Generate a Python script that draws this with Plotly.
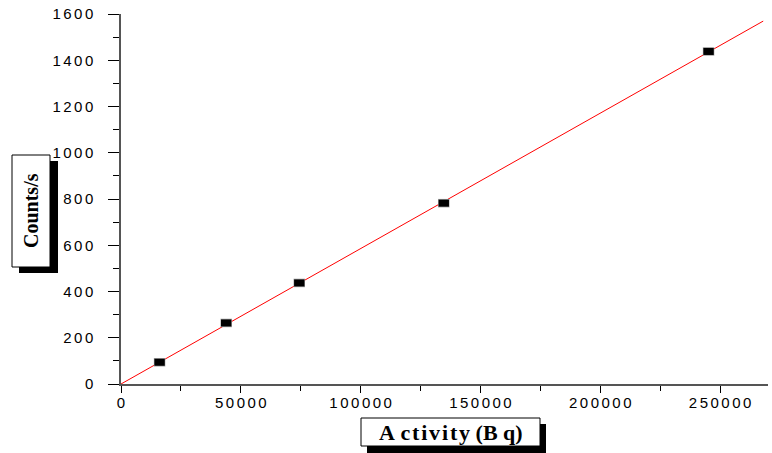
import numpy as np
import plotly.graph_objects as go

# ---- data ----
activity_bq = [16100, 43900, 74400, 134700, 245200]
counts_per_s = [94, 264, 437, 782, 1438]
fit_x_range = [0, 268000]

x_tick_vals = [0, 50000, 100000, 150000, 200000, 250000]
y_tick_vals = [0, 200, 400, 600, 800, 1000, 1200, 1400, 1600]

HS = "\u200a"
x_title = "A\u00a0" + HS.join("ctivity") + "\u00a0(B\u00a0q)"
y_title = "Counts/s"

# least-squares line through the origin
xa = np.array(activity_bq, dtype=float)
ya = np.array(counts_per_s, dtype=float)
slope = float((xa * ya).sum() / (xa * xa).sum())
fit_x = np.array(fit_x_range, dtype=float)
fit_y = slope * fit_x

TS = "\u2006"
def spaced(v):
    return TS.join(str(v))

# ---- layout geometry (pixels) ----
W, H = 772, 453
L, R, T, B = 121, 4, 14, 69
PW, PH = W - L - R, H - T - B

def px(x):
    return (x - L) / PW

def py(y):
    return (H - B - y) / PH

fig = go.Figure()

fig.add_trace(go.Scatter(x=fit_x, y=fit_y, mode="lines",
                         line=dict(color="#ff0000", width=1),
                         hoverinfo="skip", showlegend=False))
# rectangular markers: thick horizontal line symbols
fig.add_trace(go.Scatter(x=activity_bq, y=counts_per_s, mode="markers",
                         marker=dict(symbol="line-ew", size=8.2,
                                     line=dict(color="#a0a0a0", width=8.5)),
                         showlegend=False))
fig.add_trace(go.Scatter(x=activity_bq, y=counts_per_s, mode="markers",
                         marker=dict(symbol="line-ew", size=7.4,
                                     line=dict(color="#000000", width=7)),
                         showlegend=False))

tick_font = dict(family="Liberation Sans, Arial, sans-serif", size=15, color="#000")

fig.update_xaxes(range=[0, 270000], tickvals=x_tick_vals,
                 ticktext=[spaced(v) for v in x_tick_vals],
                 ticks="outside", ticklen=7, tickwidth=1, tickcolor="#000",
                 minor=dict(dtick=25000, ticks="outside", ticklen=5, tickcolor="#000", tickwidth=1),
                 showline=True, linecolor="#555", linewidth=1.5,
                 showgrid=False, zeroline=False, tickfont=tick_font,
                 ticklabelstandoff=-3)
fig.update_yaxes(range=[0, 1600], tickvals=y_tick_vals,
                 ticktext=[spaced(v) for v in y_tick_vals],
                 ticks="outside", ticklen=11, tickwidth=1, tickcolor="#000",
                 minor=dict(dtick=100, ticks="outside", ticklen=6, tickcolor="#000", tickwidth=1),
                 showline=True, linecolor="#555", linewidth=1.5,
                 showgrid=False, zeroline=False, tickfont=tick_font,
                 ticklabelstandoff=12)

shapes = []
# y title box with shadow
shapes.append(dict(type="rect", xref="paper", yref="paper",
                   x0=px(19), x1=px(58), y0=py(161), y1=py(273),
                   fillcolor="#000", line=dict(width=0), layer="above"))
shapes.append(dict(type="rect", xref="paper", yref="paper",
                   x0=px(12), x1=px(50), y0=py(155), y1=py(267),
                   fillcolor="#fff", line=dict(color="#000", width=1), layer="above"))
# x title box with shadow
shapes.append(dict(type="rect", xref="paper", yref="paper",
                   x0=px(367), x1=px(546), y0=py(424), y1=py(453),
                   fillcolor="#000", line=dict(width=0), layer="above"))
shapes.append(dict(type="rect", xref="paper", yref="paper",
                   x0=px(361), x1=px(540), y0=py(418), y1=py(446),
                   fillcolor="#fff", line=dict(color="#000", width=1), layer="above"))

title_font = dict(family="Liberation Serif, Times New Roman, serif", size=20, color="#000")
annotations = [
    dict(text="<b>%s</b>" % y_title, xref="paper", yref="paper",
         x=px(31), y=py(211), showarrow=False, textangle=-90,
         xanchor="center", yanchor="middle", font=title_font),
    dict(text="<b>%s</b>" % x_title, xref="paper", yref="paper",
         x=px(450.5), y=py(432), showarrow=False,
         xanchor="center", yanchor="middle",
         font=dict(family="Liberation Serif, Times New Roman, serif", size=22, color="#000")),
]

fig.update_layout(width=W, height=H,
                  margin=dict(l=L, r=R, t=T, b=B),
                  paper_bgcolor="#fff", plot_bgcolor="#fff",
                  shapes=shapes, annotations=annotations,
                  showlegend=False)

fig.write_html("out.html", config={"displayModeBar": False},
               post_script="document.body.style.margin='0';document.body.style.padding='0';")
